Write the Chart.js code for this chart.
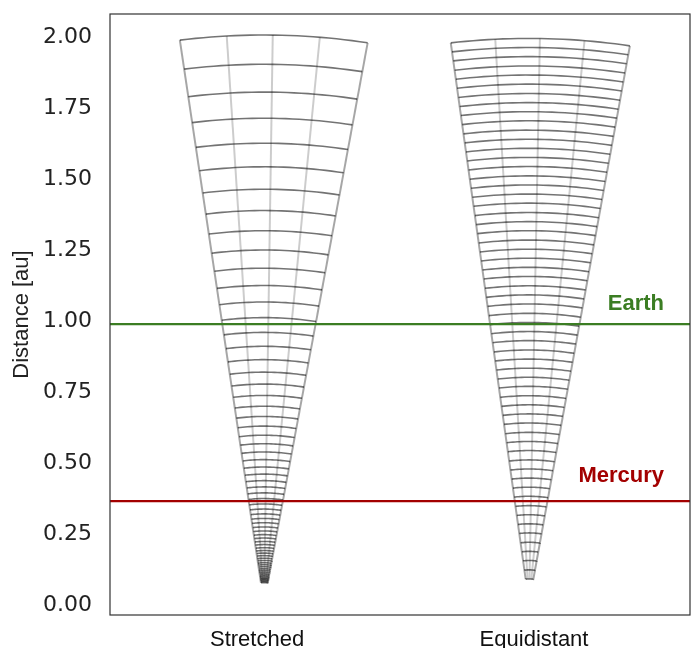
<!DOCTYPE html>
<html>
<head>
<meta charset="utf-8">
<title>Stretched vs equidistant radial grid</title>
<script src="https://cdn.jsdelivr.net/npm/chart.js@4.4.1/dist/chart.umd.min.js"></script>
<style>
  html, body { margin: 0; padding: 0; background: #fff; }
  #wrap { width: 692px; height: 648px; }
</style>
</head>
<body>
<div id="wrap"><canvas id="gridChart" width="692" height="648"></canvas></div>
<script>
// Grid names along the bottom and where the two wedges sit
const gridNames = ["Stretched", "Equidistant"];
const gridTickX = [-0.022, 0.86];
const gridCenterX = [0, 0.844];

// Radial cell edges [au]
const stretchedRadii = [2.000, 1.897, 1.799, 1.707, 1.619, 1.536, 1.457, 1.382, 1.311, 1.243,
  1.179, 1.118, 1.060, 1.005, 0.953, 0.904, 0.857, 0.813, 0.771, 0.731,
  0.693, 0.657, 0.623, 0.591, 0.561, 0.532, 0.505, 0.479, 0.454, 0.431,
  0.409, 0.388, 0.368, 0.349, 0.331, 0.314, 0.298, 0.283, 0.268, 0.254,
  0.241, 0.229, 0.217, 0.206, 0.195, 0.185, 0.176, 0.167, 0.158, 0.150,
  0.142, 0.135, 0.128, 0.121, 0.115, 0.109, 0.103, 0.098, 0.093, 0.088,
  0.084, 0.080, 0.076, 0.072];
const equidistantRadii = [1.988, 1.956, 1.924, 1.891, 1.859, 1.827, 1.794, 1.762, 1.730, 1.698,
  1.665, 1.633, 1.601, 1.569, 1.537, 1.504, 1.472, 1.440, 1.408, 1.375,
  1.343, 1.311, 1.278, 1.246, 1.214, 1.182, 1.150, 1.117, 1.085, 1.053,
  1.020, 0.988, 0.956, 0.924, 0.891, 0.859, 0.827, 0.795, 0.763, 0.730,
  0.698, 0.666, 0.634, 0.601, 0.569, 0.537, 0.504, 0.472, 0.440, 0.408,
  0.376, 0.343, 0.311, 0.279, 0.247, 0.214, 0.182, 0.150, 0.117, 0.085];

// Longitudes of the radial lines [deg]
const stretchedAngles = [-7.7, -3.4, 0.8, 5.1, 9.5];
const equidistantAngles = [-7.2, -3.1, 1.0, 5.1, 9.3];

// Y axis ticks
const yTicks = [0, 0.25, 0.5, 0.75, 1.0, 1.25, 1.5, 1.75, 2.0];

// Planet orbits
const planets = ["Earth", "Mercury"];
const planetDistance = [0.982, 0.359];
const planetColors = ["#3b7d23", "#a30000"];

const X_MIN = -0.4904, X_MAX = 1.3567;
const Y_MIN = -0.042, Y_MAX = 2.074;

// one wedge = radial spokes + arcs, each its own line dataset
function wedgeDatasets(cx, radii, angles) {
  const sets = [];
  const rMin = Math.min(...radii);
  const rMax = Math.max(...radii);
  const toXY = (r, deg) => {
    const a = deg * Math.PI / 180;
    return { x: cx + r * Math.sin(a), y: r * Math.cos(a) };
  };
  angles.forEach((deg, i) => {
    const edge = i === 0 || i === angles.length - 1;
    sets.push({
      data: [toXY(rMin, deg), toXY(rMax, deg)],
      borderColor: edge ? "rgba(0,0,0,0.35)" : "rgba(0,0,0,0.2)",
      borderWidth: 2,
      order: 2
    });
  });
  const a0 = angles[0];
  const a1 = angles[angles.length - 1];
  radii.forEach(r => {
    const pts = [];
    const steps = 24;
    for (let i = 0; i <= steps; i++) {
      pts.push(toXY(r, a0 + (a1 - a0) * i / steps));
    }
    sets.push({
      data: pts,
      borderColor: "rgba(0,0,0,0.55)",
      borderWidth: 1.6,
      order: 1
    });
  });
  return sets;
}

const datasets = [];
planets.forEach((name, i) => {
  datasets.push({
    label: name,
    data: [{ x: X_MIN, y: planetDistance[i] }, { x: X_MAX, y: planetDistance[i] }],
    borderColor: planetColors[i],
    borderWidth: 2.2,
    order: 0
  });
});
datasets.push(...wedgeDatasets(gridCenterX[0], stretchedRadii, stretchedAngles));
datasets.push(...wedgeDatasets(gridCenterX[1], equidistantRadii, equidistantAngles));

// frame + planet names
const framePlugin = {
  id: "frame",
  afterDatasetsDraw(chart) {
    const { ctx, chartArea, scales } = chart;
    ctx.save();
    ctx.strokeStyle = "#333";
    ctx.lineWidth = 1.2;
    ctx.strokeRect(chartArea.left, chartArea.top, chartArea.right - chartArea.left, chartArea.bottom - chartArea.top);
    ctx.font = 'bold 22px "Liberation Sans", Arial, sans-serif';
    ctx.textAlign = "right";
    ctx.textBaseline = "middle";
    const lift = [20, 25];
    planets.forEach((name, i) => {
      ctx.fillStyle = planetColors[i];
      const y = scales.y.getPixelForValue(planetDistance[i]) - lift[i];
      ctx.fillText(name, chartArea.right - 26, y);
    });
    ctx.restore();
  }
};

new Chart(document.getElementById("gridChart"), {
  type: "line",
  data: { datasets: datasets },
  options: {
    responsive: false,
    animation: false,
    elements: {
      point: { radius: 0, hoverRadius: 0 },
      line: { tension: 0, fill: false }
    },
    layout: { padding: { top: 14, right: 2, left: 0, bottom: 0 } },
    plugins: {
      legend: { display: false },
      tooltip: { enabled: false }
    },
    events: [],
    scales: {
      x: {
        type: "linear",
        min: X_MIN,
        max: X_MAX,
        grid: { display: false, drawTicks: false },
        border: { display: false },
        afterBuildTicks: scale => {
          scale.ticks = gridTickX.map(v => ({ value: v }));
        },
        afterFit: scale => {
          scale.height = 33;
          scale.paddingLeft = 0;
          scale.paddingRight = 0;
        },
        ticks: {
          autoSkip: false,
          maxRotation: 0,
          padding: 12,
          color: "#111",
          font: { family: '"Liberation Sans", Arial, sans-serif', size: 22 },
          callback: (value, index) => gridNames[index]
        }
      },
      y: {
        type: "linear",
        min: Y_MIN,
        max: Y_MAX,
        grid: { display: false, drawTicks: false },
        border: { display: false },
        afterBuildTicks: scale => {
          scale.ticks = yTicks.map(v => ({ value: v }));
        },
        afterFit: scale => {
          scale.width = 110;
          scale.paddingTop = 0;
          scale.paddingBottom = 0;
        },
        ticks: {
          padding: 18,
          labelOffset: 2,
          color: "#222",
          font: { family: '"DejaVu Sans", sans-serif', size: 22 },
          callback: value => Number(value).toFixed(2)
        },
        title: {
          display: true,
          text: "Distance [au]",
          color: "#222",
          padding: { top: 9, bottom: 0 },
          font: { family: '"Liberation Sans", Arial, sans-serif', size: 22 }
        }
      }
    }
  },
  plugins: [framePlugin]
});
</script>
</body>
</html>
